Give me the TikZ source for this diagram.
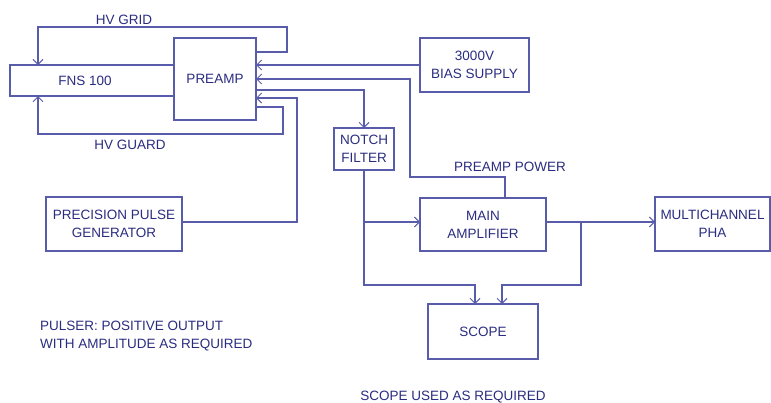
\documentclass[tikz,border=0pt]{standalone}
\usepackage{fontspec}
\setmainfont{Liberation Sans}
\usetikzlibrary{arrows.meta}
\definecolor{wirecol}{RGB}{88,92,170}
\definecolor{txtcol}{RGB}{42,44,128}
\tikzset{
  box/.style={draw=wirecol, line width=1.1pt, inner sep=0pt, outer sep=0pt, anchor=center,
    text=txtcol, align=center, font=\fontsize{13.5}{18}\selectfont},
  lbl/.style={text=txtcol, inner sep=0pt, font=\fontsize{13.5}{18}\selectfont},
  wire/.style={draw=wirecol, line width=1.1pt},
  arr/.style={wire, -{Straight Barb[length=5pt,width=10pt,line width=1pt]}}
}
\begin{document}
\begin{tikzpicture}[x=1pt,y=-1pt]
\useasboundingbox (0,0) rectangle (771,402);
% boxes
\node[box, minimum width=164pt, minimum height=31pt] (fns) at (92,80.5) {};
\node[lbl] (fnstxt) at (85,80.5) {FNS 100};
\node[box, minimum width=82pt, minimum height=82pt] (preamp) at (215,79) {PREAMP};
\node[box, minimum width=109pt, minimum height=54pt] (bias) at (474.5,65) {3000V\\BIAS SUPPLY};
\node[box, minimum width=60pt, minimum height=42pt] (notch) at (364,149) {NOTCH\\FILTER};
\node[box, minimum width=136pt, minimum height=54pt] (pulse) at (114,224) {PRECISION PULSE\\GENERATOR};
\node[box, minimum width=126pt, minimum height=53pt] (mainamp) at (483,224.5) {MAIN\\AMPLIFIER};
\node[box, minimum width=115pt, minimum height=54pt] (pha) at (712.5,224) {MULTICHANNEL\\PHA};
\node[box, minimum width=110pt, minimum height=55pt] (scope) at (483,331.5) {SCOPE};
% labels
\node[lbl] (hvgrid) at (124,20) {HV GRID};
\node[lbl] (hvguard) at (130,145) {HV GUARD};
\node[lbl] (ppower) at (510,167) {PREAMP POWER};
\node[lbl, anchor=west, align=left] (pulser) at (40,336) {PULSER: POSITIVE OUTPUT\\WITH AMPLITUDE AS REQUIRED};
\node[lbl] (scopenote) at (453,397) {SCOPE USED AS REQUIRED};
% connectors
\draw[arr] (preamp.east |- 0,52) -| (287,27) -| (fns.north -| 38,0);
\draw[arr] (preamp.east |- 0,107) -| (283,134) -| (fns.south -| 38,0);
\draw[arr] (bias.west |- 0,65) -- (preamp.east |- 0,65);
\draw[arr] (mainamp.north -| 505,0) |- (410,177) |- (preamp.east |- 0,79);
\draw[arr] (preamp.east |- 0,90) -| (notch.north);
\draw[arr] (pulse.east |- 0,222) -| (297,98) -- (preamp.east |- 0,98);
\draw[arr] (notch.south) |- (475,285) -- (scope.north -| 475,0);
\draw[arr] (notch.south |- 0,222) -- (mainamp.west |- 0,222);
\draw[arr] (mainamp.east |- 0,222) -- (pha.west |- 0,222);
\draw[arr] (581,222) |- (502,285) -- (scope.north -| 502,0);
\end{tikzpicture}
\end{document}
